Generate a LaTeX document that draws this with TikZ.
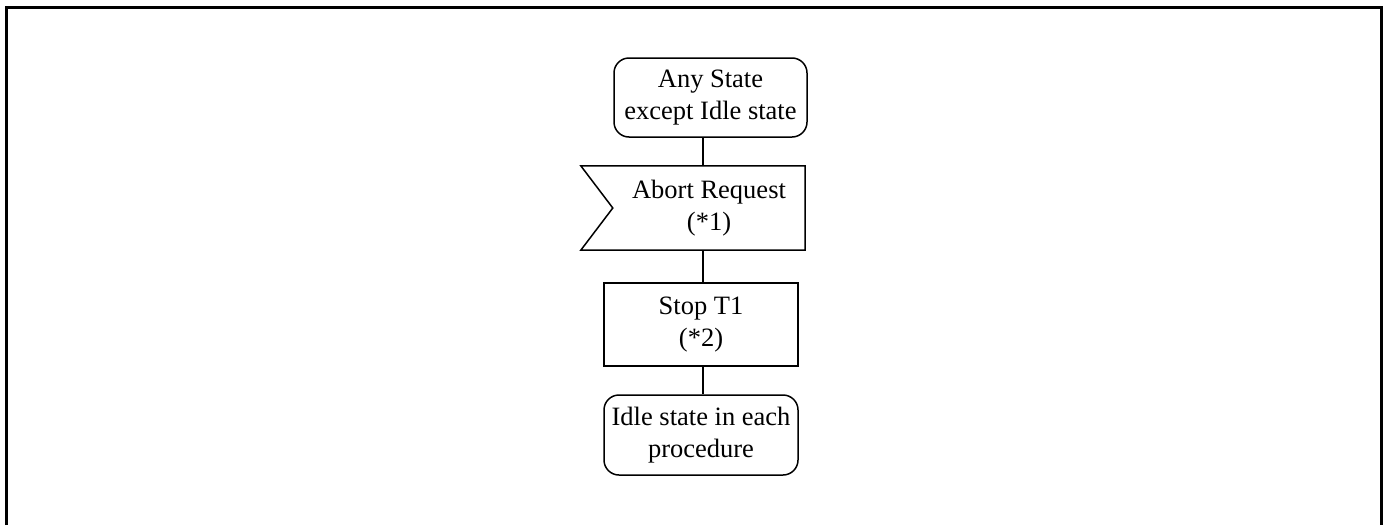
\documentclass[tikz,border=0pt]{standalone}
\usepackage{fontspec}
\setmainfont{Liberation Serif}
\usetikzlibrary{calc}
\begin{document}
\begin{tikzpicture}[x=1pt,y=-1pt,
  txt/.style={font=\fontsize{26.5}{32}\selectfont, align=center, inner sep=0pt},
  statebox/.style={txt, draw, line width=1.5pt, rounded corners=15pt},
  taskbox/.style={txt, draw, line width=1.5pt},
  link/.style={line width=1.5pt}]
\useasboundingbox (0,0) rectangle (1388,525);
\draw[line width=2.4pt] (6.5,525) -- (6.5,7.5) -- (1381.5,7.5) -- (1381.5,525);
\coordinate (lx) at (703,0);
\node[statebox, minimum width=193pt, minimum height=79pt] (a) at (710.5,97.5) {Any State\\except Idle state};
\node[txt, minimum width=192pt, minimum height=84pt] (b) at (709,208) {Abort Request\\(*1)};
\draw[line width=1.5pt] ($(b.north west)+(-32,0)$) -- (b.north east) -- (b.south east) -- ($(b.south west)+(-32,0)$) -- (b.west) -- cycle;
\node[taskbox, minimum width=194pt, minimum height=83pt] (c) at (701,324.5) {Stop T1\\(*2)};
\node[statebox, minimum width=194pt, minimum height=80pt] (d) at (701,435) {Idle state in each\\procedure};
\draw[link] (a.south -| lx) -- (b.north -| lx);
\draw[link] (b.south -| lx) -- (c.north -| lx);
\draw[link] (c.south -| lx) -- (d.north -| lx);
\end{tikzpicture}
\end{document}
